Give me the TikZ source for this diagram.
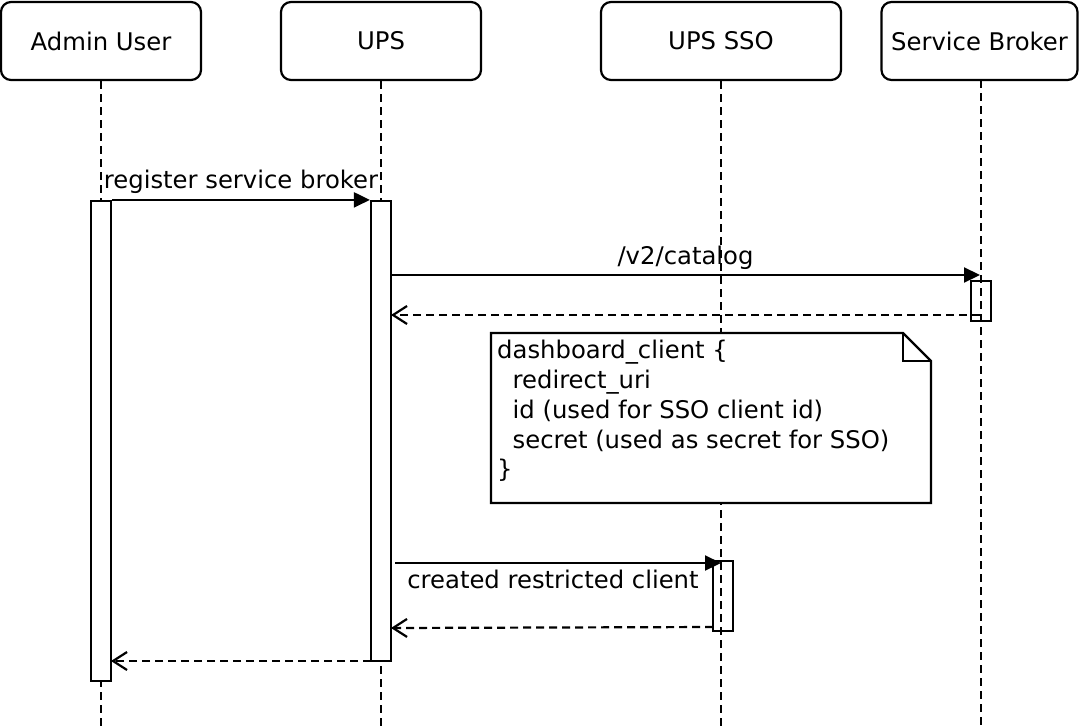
\documentclass[tikz,border=0pt]{standalone}
\usepackage{fontspec}
\setmainfont{DejaVu Sans}
\usetikzlibrary{arrows.meta}
\begin{document}
\begin{tikzpicture}[x=1pt,y=-1pt,
  font=\fontsize{24.3}{29.8}\selectfont,
  actorbox/.style={draw, line width=2.2pt, rounded corners=10pt, minimum height=78pt, inner sep=0pt},
  lifeline/.style={line width=2.2pt, dash pattern=on 8pt off 5pt},
  actbar/.style={draw, line width=2.2pt, minimum width=20pt, inner sep=0pt},
  msg/.style={line width=2.2pt, -{Triangle[length=16pt,width=15pt]}},
  reply/.style={line width=2.2pt, dash pattern=on 8pt off 5pt, -{Straight Barb[length=14pt,width=18pt,line width=2.2pt]}},
  lbl/.style={anchor=base, inner sep=0pt}
]
\useasboundingbox (0,0) rectangle (1079,726);

% header boxes
\node[actorbox, minimum width=200pt] (admin) at (101,41) {Admin User};
\node[actorbox, minimum width=200pt] (ups) at (381,41) {UPS};
\node[actorbox, minimum width=240pt] (sso) at (721,41) {UPS SSO};
\node[actorbox, minimum width=196pt] (broker) at (979.5,41) {Service Broker};

% lifeline ends
\coordinate (adminEnd) at (101,726);
\coordinate (upsEnd) at (381,726);
\coordinate (ssoEnd) at (721,726);
\coordinate (brokerEnd) at (981,726);
\coordinate (brokerTop) at (981,80);

\draw[lifeline] (admin.south) -- (adminEnd);
\draw[lifeline] (ups.south) -- (upsEnd);
\draw[lifeline] (sso.south) -- (ssoEnd);
\draw[lifeline] (brokerTop) -- (brokerEnd);

% activation bars
\node[actbar, fill=white, minimum height=480pt] (adminbar) at (101,441) {};
\node[actbar, fill=white, minimum height=460pt] (upsbar) at (381,431) {};
\node[actbar, minimum height=40pt] (brokerbar) at (981,301) {};
\node[actbar, minimum height=70pt] (ssobar) at (723,596) {};

% note
\coordinate (nA) at (491,333);
\coordinate (nB) at (903,333);
\coordinate (nC) at (931,361);
\coordinate (nD) at (931,503);
\coordinate (nE) at (491,503);
\coordinate (nF) at (903,361);
\draw[line width=2.2pt, fill=white] (nA) -- (nB) -- (nC) -- (nD) -- (nE) -- cycle;
\draw[line width=2.2pt] (nB) -- (nF) -- (nC);
\node[anchor=north west, inner sep=0pt, align=left] (notetext) at (497,340)
  {dashboard\_client \{\\\ \ redirect\_uri\\\ \ id (used for SSO client id)\\\ \ secret (used as secret for SSO)\\\}};

% messages
\draw[msg] (adminbar.north east) -- node[lbl, yshift=11pt] (m1) {register service broker} (upsbar.north west);

\coordinate (catS) at (391,275);
\coordinate (catE) at (980,275);
\draw[msg] (catS) -- node[lbl, yshift=11pt] (m2) {/v2/catalog} (catE);

\coordinate (r1S) at (980,315);
\coordinate (r1E) at (391,315);
\draw[reply] (r1S) -- (r1E);

\coordinate (crS) at (395,563);
\coordinate (crE) at (721,563);
\draw[msg] (crS) -- node[lbl, yshift=-25pt, xshift=-5pt] (m3) {created restricted client} (crE);

\coordinate (r2S) at (713,627);
\coordinate (r2E) at (391,628);
\draw[reply] (r2S) -- (r2E);

\coordinate (r3S) at (371,661);
\coordinate (r3E) at (111,661);
\draw[reply] (r3S) -- (r3E);
\end{tikzpicture}
\end{document}
